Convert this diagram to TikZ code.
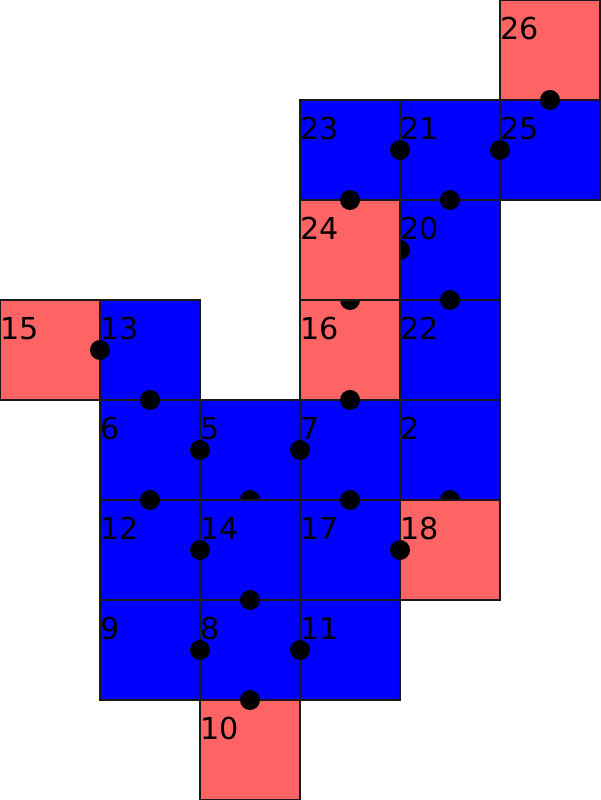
\documentclass[tikz,border=0pt]{standalone}
\usepackage{fontspec}
\setmainfont{DejaVu Sans}
\definecolor{cellred}{RGB}{255,100,100}

\begin{document}
\begin{tikzpicture}[
    cell/.style={draw=black!90, line width=0.35pt, minimum size=1cm, inner sep=0pt, outer sep=0pt},
    bluecell/.style={cell, fill=blue},
    redcell/.style={cell, fill=cellred},
    num/.style={anchor=base west, inner sep=0pt, yshift=-0.4cm, font=\fontsize{8.6}{10}\selectfont},
    joint/.style={fill=black}]
    \useasboundingbox (0,0) rectangle (6,8);
    % lower layer of cells
    \foreach \n/\x/\y in {23/3/6,21/4/6,25/5/6,20/4/5,13/1/4,22/4/4,6/1/3,5/2/3,7/3/3,2/4/3,12/1/2,17/3/2,9/1/1,8/2/1,11/3/1} {
      \node[bluecell] (c\n) at (\x+0.5,\y+0.5) {};
      \node[num] (l\n) at (c\n.north west) {\n};
    }
    \foreach \n/\x/\y in {26/5/7,15/0/4,16/3/4,10/2/0} {
      \node[redcell] (c\n) at (\x+0.5,\y+0.5) {};
      \node[num] (l\n) at (c\n.north west) {\n};
    }
    % joints that end up half hidden
    \foreach \p in {(4,5.5),(3.5,5),(2.5,3),(4.5,3)} \fill[joint] \p circle (0.1);
    % upper layer of cells
    \node[redcell] (c24) at (3.5,5.5) {};
    \node[num] (l24) at (c24.north west) {24};
    \node[bluecell] (c14) at (2.5,2.5) {};
    \node[num] (l14) at (c14.north west) {14};
    \node[redcell] (c18) at (4.5,2.5) {};
    \node[num] (l18) at (c18.north west) {18};
    % remaining joints
    \foreach \p in {(5.5,7),(4,6.5),(5,6.5),(3.5,6),(4.5,6),(4.5,5),(1,4.5),(1.5,4),(3.5,4),(2,3.5),(3,3.5),(1.5,3),(3.5,3),(2,2.5),(4,2.5),(2.5,2),(2,1.5),(3,1.5),(2.5,1)}
      \fill[joint] \p circle (0.1);
\end{tikzpicture}
\end{document}
